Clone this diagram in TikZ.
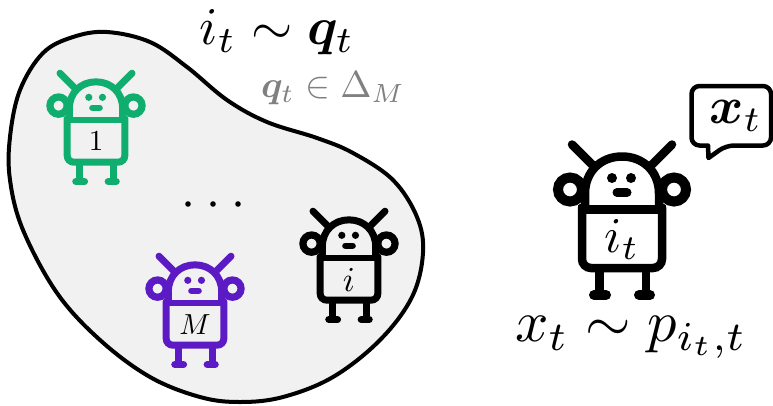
\documentclass[tikz,border=0pt]{standalone}
\usepackage{amsmath,amssymb,bm}
\usetikzlibrary{positioning}
\definecolor{blobfill}{RGB}{241,241,241}
\definecolor{robotgreen}{RGB}{16,174,110}
\definecolor{robotpurple}{RGB}{92,26,196}
\newcommand{\drawrobot}[8]{%
\begin{scope}[shift={(#1,#2)},scale=#3,#4,line cap=round]
\draw[line width=#8] (-50,-65) -- (-30,-45);
\draw[line width=#8] (50,-65) -- (30,-45);
\draw[line width=#3*10pt] (-52,-20) circle (12);
\draw[line width=#3*10pt] (52,-20) circle (12);
\draw[line width=#8] (-37,0) -- (-37,-16) .. controls (-37,-38) and (-21,-53) .. (0,-53) .. controls (21,-53) and (37,-38) .. (37,-16) -- (37,0);
\draw[line width=#3*9pt,line cap=butt] (-44,0) -- (44,0);
\draw[line width=#8,rounded corners=#3*9pt] (-40,-2) -- (-40,58.5) -- (40,58.5) -- (40,-2);
\draw[line width=#8,line cap=butt] (-22.5,60) -- (-22.5,85);
\draw[line width=#8,line cap=butt] (24,60) -- (24,85);
\draw[line width=#3*10pt] (-28,85.5) -- (-16,85.5);
\draw[line width=#3*10pt] (17,85.5) -- (28,85.5);
\fill (-10,-31.5) circle (5);
\fill (9,-31.5) circle (5);
\draw[line width=#3*9pt] (-5,-17) -- (5,-17);
\node[inner sep=0pt,text=black,scale=#6] (#5) at (0,30) {#7};
\end{scope}}

\begin{document}
\begin{tikzpicture}[x=1pt,y=-1pt]
\useasboundingbox (0,0) rectangle (773,405);
% population
\draw[line width=4pt,fill=blobfill] plot[smooth cycle,tension=0.6] coordinates {(107,32) (150,42) (187,67) (227,100) (267,122) (317,138) (353,153) (393,180) (417,217) (423,253) (412,297) (380,340) (333,377) (283,397) (240,402) (200,397) (150,377) (100,340) (57,293) (23,230) (10,180) (10,137) (20,90) (43,53) (73,37)};
\drawrobot{96}{120}{0.72}{robotgreen}{labgreen}{2.9}{$1$}{7pt}
\drawrobot{195}{303}{0.72}{robotpurple}{labpurple}{2.9}{$M$}{7pt}
\drawrobot{349}{258}{0.72}{black}{labblack}{3.5}{$i$}{7pt}
\drawrobot{622}{209.5}{1}{black}{labbig}{5}{$i_t$}{8.5pt}
\fill (188,204) circle (2.8);
\fill (213,204) circle (2.8);
\fill (238,204) circle (2.8);
\node[inner sep=0pt,scale=5.3] (draw) at (277,32) {$i_t\sim\bm{q}_t$};
\node[inner sep=0pt,scale=3.75,text=gray] (simplex) at (333,88) {$\bm{q}_t\in\Delta_M$};
% speech
\draw[line width=4.5pt,line join=round,fill=white,rounded corners=8pt] (691.5,86) -- (771,86) -- (771,145.5) -- (726,145.5) [sharp corners] -- (708.5,158) -- (708,145.5) [rounded corners=8pt] -- (691.5,145.5) -- cycle;
\node[inner sep=0pt,scale=5.2] (speech) at (736,116) {$\bm{x}_t$};
\node[inner sep=0pt,scale=5.85] (obs) at (631,337) {$x_t\sim p_{i_t,t}$};
\end{tikzpicture}
\end{document}
